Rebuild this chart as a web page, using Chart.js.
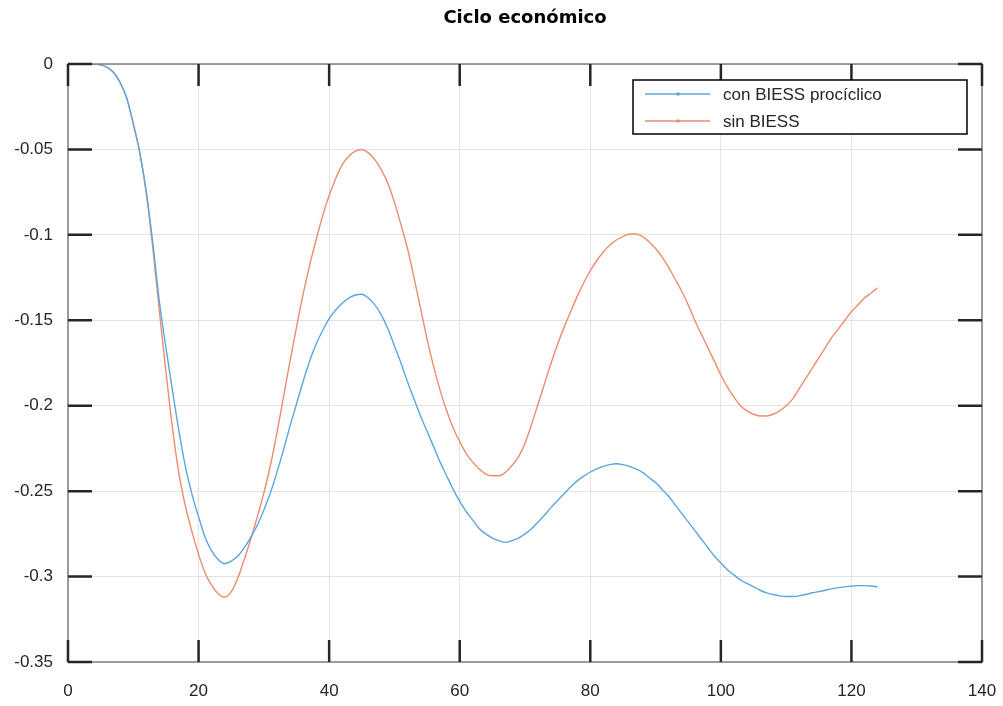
<!DOCTYPE html>
<html>
<head>
<meta charset="utf-8">
<title>Ciclo económico</title>
<script src="https://cdn.jsdelivr.net/npm/chart.js@4.4.0/dist/chart.umd.min.js"></script>
<style>
    html, body { margin: 0; padding: 0; background: #fff; }
</style>
</head>
<body>
<canvas id="ciclo" width="1003" height="706"></canvas>
<script>
// periodos (eje x)
var periodos = [
    1, 2, 3, 4, 5, 6, 7, 8, 9, 10, 11, 12, 13, 14, 15, 16, 17, 18, 19, 20,
    21, 22, 23, 24, 25, 26, 27, 28, 29, 30, 31, 32, 33, 34, 35, 36, 37, 38, 39, 40,
    41, 42, 43, 44, 45, 46, 47, 48, 49, 50, 51, 52, 53, 54, 55, 56, 57, 58, 59, 60,
    61, 62, 63, 64, 65, 66, 67, 68, 69, 70, 71, 72, 73, 74, 75, 76, 77, 78, 79, 80,
    81, 82, 83, 84, 85, 86, 87, 88, 89, 90, 91, 92, 93, 94, 95, 96, 97, 98, 99, 100,
    101, 102, 103, 104, 105, 106, 107, 108, 109, 110, 111, 112, 113, 114, 115, 116, 117, 118, 119, 120,
    121, 122, 123, 124
];

var conBiess = [
    0, 0, 0, 0, -0.0005, -0.002, -0.005, -0.011, -0.020, -0.035,
    -0.052, -0.075, -0.105, -0.139, -0.166, -0.191, -0.215, -0.236, -0.252, -0.265,
    -0.277, -0.285, -0.290, -0.2925, -0.291, -0.288, -0.283, -0.277, -0.270, -0.261,
    -0.251, -0.239, -0.226, -0.212, -0.199, -0.186, -0.174, -0.164, -0.156, -0.149,
    -0.144, -0.140, -0.137, -0.1352, -0.1348, -0.137, -0.141, -0.147, -0.155, -0.165,
    -0.175, -0.186, -0.196, -0.206, -0.215, -0.224, -0.233, -0.241, -0.249, -0.256,
    -0.262, -0.267, -0.272, -0.275, -0.2775, -0.279, -0.280, -0.279, -0.2775, -0.275,
    -0.272, -0.268, -0.264, -0.2595, -0.2555, -0.2515, -0.2475, -0.244, -0.2412, -0.2388,
    -0.237, -0.2355, -0.2345, -0.234, -0.2345, -0.2355, -0.237, -0.239, -0.242, -0.245,
    -0.249, -0.253, -0.258, -0.263, -0.268, -0.273, -0.278, -0.283, -0.288, -0.292,
    -0.296, -0.299, -0.302, -0.304, -0.306, -0.308, -0.3095, -0.3105, -0.3113, -0.3117,
    -0.3117, -0.3113, -0.3105, -0.3095, -0.3088, -0.308, -0.3072, -0.3065, -0.306, -0.3056,
    -0.3053, -0.3053, -0.3055, -0.306
];

var sinBiess = [
    0, 0, 0, 0, -0.0005, -0.002, -0.005, -0.011, -0.020, -0.035,
    -0.052, -0.076, -0.108, -0.145, -0.180, -0.213, -0.240, -0.259, -0.274, -0.287,
    -0.298, -0.305, -0.310, -0.312, -0.309, -0.301, -0.290, -0.278, -0.265, -0.251,
    -0.235, -0.216, -0.195, -0.174, -0.154, -0.135, -0.118, -0.103, -0.089, -0.077,
    -0.067, -0.059, -0.054, -0.051, -0.050, -0.052, -0.056, -0.062, -0.070, -0.081,
    -0.094, -0.108, -0.125, -0.143, -0.161, -0.177, -0.191, -0.203, -0.213, -0.221,
    -0.228, -0.233, -0.237, -0.240, -0.241, -0.241, -0.239, -0.235, -0.230, -0.222,
    -0.211, -0.199, -0.187, -0.175, -0.164, -0.154, -0.145, -0.136, -0.128, -0.121,
    -0.115, -0.110, -0.106, -0.103, -0.101, -0.0995, -0.0995, -0.101, -0.104, -0.108,
    -0.113, -0.119, -0.126, -0.133, -0.141, -0.150, -0.158, -0.166, -0.174, -0.182,
    -0.189, -0.195, -0.200, -0.203, -0.205, -0.206, -0.206, -0.205, -0.203, -0.200,
    -0.196, -0.190, -0.184, -0.178, -0.172, -0.166, -0.160, -0.155, -0.150, -0.145,
    -0.141, -0.137, -0.134, -0.131
];

var etiquetas = ['con BIESS procíclico', 'sin BIESS'];
var colores = ['#5aa7e0', '#ee8c6c'];
var titulo = 'Ciclo económico';

function puntos(ys) {
    return periodos.map(function (x, i) { return { x: x, y: ys[i] }; });
}

// marco, ticks hacia adentro, titulo y leyenda
var marcoEjes = {
    id: 'marcoEjes',
    afterDatasetsDraw: function (chart) {
        var ctx = chart.ctx, a = chart.chartArea;
        var sx = chart.scales.x, sy = chart.scales.y;
        ctx.save();

        ctx.strokeStyle = '#7f7f7f';
        ctx.lineWidth = 1.5;
        ctx.strokeRect(a.left, a.top, a.right - a.left, a.bottom - a.top);

        ctx.strokeStyle = '#262626';
        ctx.lineWidth = 2.5;
        ctx.beginPath();
        sx.ticks.forEach(function (t) {
            var px = sx.getPixelForValue(t.value);
            ctx.moveTo(px, a.bottom); ctx.lineTo(px, a.bottom - 22);
            ctx.moveTo(px, a.top); ctx.lineTo(px, a.top + 22);
        });
        sy.ticks.forEach(function (t) {
            var py = sy.getPixelForValue(t.value);
            ctx.moveTo(a.left, py); ctx.lineTo(a.left + 24, py);
            ctx.moveTo(a.right, py); ctx.lineTo(a.right - 24, py);
        });
        ctx.stroke();

        // titulo
        ctx.fillStyle = '#000';
        ctx.font = 'bold 18px "DejaVu Sans"';
        ctx.textAlign = 'center';
        ctx.textBaseline = 'middle';
        ctx.fillText(titulo, (a.left + a.right) / 2, 18);

        // leyenda
        var lx = 633, ly = 80, lw = 334, lh = 54;
        ctx.fillStyle = '#fff';
        ctx.fillRect(lx, ly, lw, lh);
        ctx.strokeStyle = '#000';
        ctx.lineWidth = 1.5;
        ctx.strokeRect(lx, ly, lw, lh);
        ctx.font = '17px "Liberation Sans"';
        ctx.textAlign = 'left';
        chart.data.datasets.forEach(function (ds, i) {
            var y = 94 + i * 27;
            ctx.strokeStyle = ds.borderColor;
            ctx.lineWidth = 1.3;
            ctx.beginPath();
            ctx.moveTo(645, y); ctx.lineTo(710, y);
            ctx.stroke();
            ctx.fillStyle = ds.borderColor;
            ctx.beginPath();
            ctx.arc(678, y, 1.8, 0, Math.PI * 2);
            ctx.fill();
            ctx.fillStyle = '#262626';
            ctx.fillText(ds.label, 723, y + 1);
        });
        ctx.restore();
    }
};

new Chart(document.getElementById('ciclo').getContext('2d'), {
    type: 'line',
    data: {
        datasets: [{
            label: etiquetas[0],
            data: puntos(conBiess),
            borderColor: colores[0],
            borderWidth: 1.4,
            pointRadius: 0,
            cubicInterpolationMode: 'monotone'
        }, {
            label: etiquetas[1],
            data: puntos(sinBiess),
            borderColor: colores[1],
            borderWidth: 1.4,
            pointRadius: 0,
            cubicInterpolationMode: 'monotone'
        }]
    },
    options: {
        responsive: false,
        animation: false,
        layout: { padding: { top: 64, right: 21, left: 0, bottom: 0 } },
        plugins: {
            legend: { display: false },
            title: { display: false },
            tooltip: { enabled: false }
        },
        scales: {
            x: {
                type: 'linear',
                min: 0,
                max: 140,
                ticks: {
                    stepSize: 20,
                    color: '#262626',
                    padding: 19,
                    maxRotation: 0,
                    font: { family: 'Liberation Sans', size: 17 }
                },
                grid: { color: '#e3e3e3', lineWidth: 1, drawTicks: false },
                border: { display: false },
                afterFit: function (s) { s.height = 44; s.paddingLeft = 0; s.paddingRight = 0; }
            },
            y: {
                min: -0.35,
                max: 0,
                ticks: {
                    stepSize: 0.05,
                    color: '#262626',
                    padding: 15,
                    font: { family: 'Liberation Sans', size: 17 },
                    callback: function (v) { return String(Number(v.toFixed(2))); }
                },
                grid: { color: '#e3e3e3', lineWidth: 1, drawTicks: false },
                border: { display: false },
                afterFit: function (s) { s.width = 68; s.paddingTop = 0; s.paddingBottom = 0; }
            }
        }
    },
    plugins: [marcoEjes]
});
</script>
</body>
</html>
